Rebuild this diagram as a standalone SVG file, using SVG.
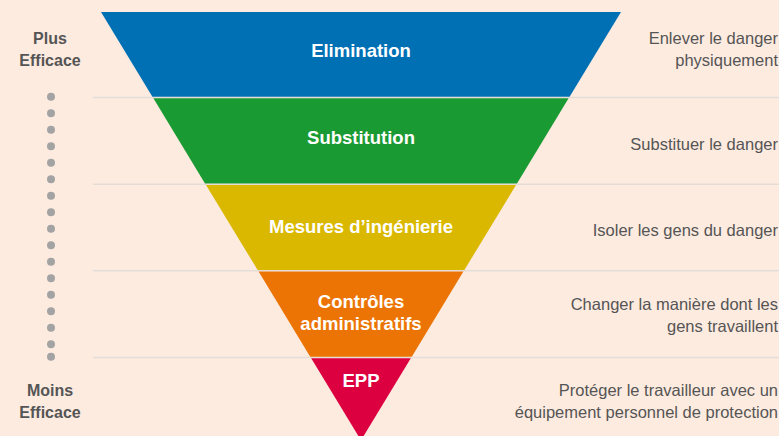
<svg xmlns="http://www.w3.org/2000/svg" width="779" height="436" viewBox="0 0 779 436">
<style>
.band{stroke:none}
.lbl{font-family:"Liberation Sans",Arial,sans-serif;font-weight:bold;font-size:18.5px;fill:#ffffff;text-anchor:middle}
.desc{font-family:"Liberation Sans",Arial,sans-serif;font-size:16.5px;fill:#555555;text-anchor:end}
.side{font-family:"Liberation Sans",Arial,sans-serif;font-weight:bold;font-size:16px;fill:#555555;text-anchor:middle}
.sep{stroke:#e4ddd7;stroke-width:1.5}
.dot{fill:#a3a3a3}
</style>
<rect width="779" height="436" fill="#fdebe0"/>
<g id="separators">
<line class="sep" x1="93" y1="97.5" x2="779" y2="97.5"/>
<line class="sep" x1="93" y1="184.2" x2="779" y2="184.2"/>
<line class="sep" x1="93" y1="270.8" x2="779" y2="270.8"/>
<line class="sep" x1="93" y1="357.5" x2="779" y2="357.5"/>
</g>
<g id="scale">
<text class="side" x="50" y="44">Plus</text>
<text class="side" x="50" y="66">Efficace</text>
<g class="dot">
<circle cx="51" cy="96.7" r="4"/><circle cx="51" cy="113.2" r="4"/><circle cx="51" cy="129.7" r="4"/><circle cx="51" cy="146.2" r="4"/><circle cx="51" cy="162.7" r="4"/><circle cx="51" cy="179.2" r="4"/><circle cx="51" cy="195.7" r="4"/><circle cx="51" cy="212.2" r="4"/><circle cx="51" cy="228.7" r="4"/><circle cx="51" cy="245.2" r="4"/><circle cx="51" cy="261.7" r="4"/><circle cx="51" cy="278.2" r="4"/><circle cx="51" cy="294.7" r="4"/><circle cx="51" cy="311.2" r="4"/><circle cx="51" cy="327.7" r="4"/><circle cx="51" cy="344.2" r="4"/><circle cx="51" cy="356.7" r="4"/>
</g>
<text class="side" x="50" y="396">Moins</text>
<text class="side" x="50" y="418">Efficace</text>
</g>
<g id="elimination">
<polygon class="band" fill="#0070b4" points="101,12 621,12 569.6,96.7 152.4,96.7"/>
<text class="lbl" x="361" y="57">Elimination</text>
<text class="desc" x="778" y="44">Enlever le danger</text>
<text class="desc" x="778" y="66">physiquement</text>
</g>
<g id="substitution">
<polygon class="band" fill="#1a9a32" points="153.4,98.3 568.6,98.3 517,183.4 205,183.4"/>
<text class="lbl" x="361" y="144">Substitution</text>
<text class="desc" x="778" y="150">Substituer le danger</text>
</g>
<g id="ingenierie">
<polygon class="band" fill="#dab800" points="206,185 516,185 464.4,270 257.6,270"/>
<text class="lbl" x="361" y="233">Mesures d’ingénierie</text>
<text class="desc" x="778" y="236">Isoler les gens du danger</text>
</g>
<g id="administratifs">
<polygon class="band" fill="#ec7404" points="258.6,271.6 463.4,271.6 411.8,356.7 310.2,356.7"/>
<text class="lbl" x="361" y="308">Contrôles</text>
<text class="lbl" x="361" y="330">administratifs</text>
<text class="desc" x="778" y="310">Changer la manière dont les</text>
<text class="desc" x="778" y="332">gens travaillent</text>
</g>
<g id="epp">
<polygon class="band" fill="#dc0040" points="311.2,358.3 410.8,358.3 361,440.3"/>
<text class="lbl" x="361" y="387">EPP</text>
<text class="desc" x="778" y="396">Protéger le travailleur avec un</text>
<text class="desc" x="778" y="418">équipement personnel de protection</text>
</g>
</svg>
